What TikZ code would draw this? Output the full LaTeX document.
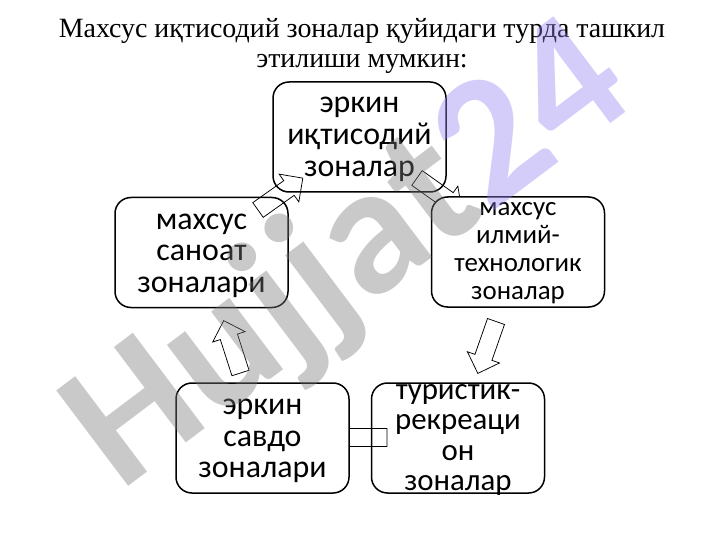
\documentclass[tikz,border=0pt]{standalone}
\usepackage{fontspec}
\setmainfont{Liberation Serif}
\newfontfamily\boxfont{Carlito}
\newfontfamily\wmfont{Carlito}
\definecolor{wmgray}{RGB}{120,120,120}
\definecolor{wmpurple}{RGB}{150,130,240}
\begin{document}
\begin{tikzpicture}[x=1bp,y=-1bp,
  zone/.style={draw=black, line width=1.5bp, rounded corners=16bp, fill=white,
    minimum width=173bp, minimum height=110bp, inner sep=0pt},
  zonetext/.style={align=center, inner sep=0pt, text=black},
  arrowline/.style={draw=black, line width=0.75bp, line join=miter},
  pics/barrow/.style={code={\path[arrowline] (0,-9) -- (38,-9) -- (38,-17) -- (55,0) -- (38,17) -- (38,9) -- (0,9) -- cycle;}},
  wmark/.style={inner sep=0pt, text opacity=0.4, font=\wmfont\bfseries\fontsize{185}{185}\selectfont}]
\useasboundingbox (0,0) rectangle (720,540);
% title
\node[font=\fontsize{28}{30}\selectfont, align=center, inner sep=0pt] (title) at (362,46)
  {Махсус иқтисодий зоналар қуйидаги турда ташкил\\этилиши мумкин:};
% top box
\node[zone] (b1) at (359.5,137) {};
\node[zonetext, font=\boxfont\fontsize{32}{32}\selectfont] (t1) at ([yshift=-2bp]b1.center) {эркин\\иқтисодий\\зоналар};
\pic[rotate=-35.4] at (417,178) {barrow};
% right box
\node[zone] (b3) at (518,252) {};
\node[zonetext, font=\boxfont\fontsize{27}{28}\selectfont] (t3) at ([yshift=-1bp]b3.center) {махсус\\илмий-\\технологик\\зоналар};
\pic[rotate=-109.3] at (496,321.5) {barrow};
% bottom right box
\node[zone] (b5) at (458,438) {};
\node[zonetext, font=\boxfont\fontsize{31}{30.5}\selectfont] (t5) at ([yshift=-2bp]b5.center) {туристик-\\рекреаци\\он\\зоналар};
\pic[rotate=180] at (387,437.5) {barrow};
% bottom left box
\node[zone] (b4) at (262.5,438) {};
\node[zonetext, font=\boxfont\fontsize{32}{31.5}\selectfont] (t4) at ([yshift=-3bp]b4.center) {эркин\\савдо\\зоналари};
\pic[rotate=107.8] at (240.5,373) {barrow};
% left box
\node[zone] (b2) at (201.5,252.5) {};
\node[zonetext, font=\boxfont\fontsize{32}{31.5}\selectfont] (t2) at ([yshift=-3bp]b2.center) {махсус\\саноат\\зоналари};
\pic[rotate=35.4] at (258,210) {barrow};
% watermark
\node[wmark, rotate=37] (wm) at (350,258) {\textcolor{wmgray}{Hujjat}\textcolor{wmpurple}{24}};
\end{tikzpicture}
\end{document}
